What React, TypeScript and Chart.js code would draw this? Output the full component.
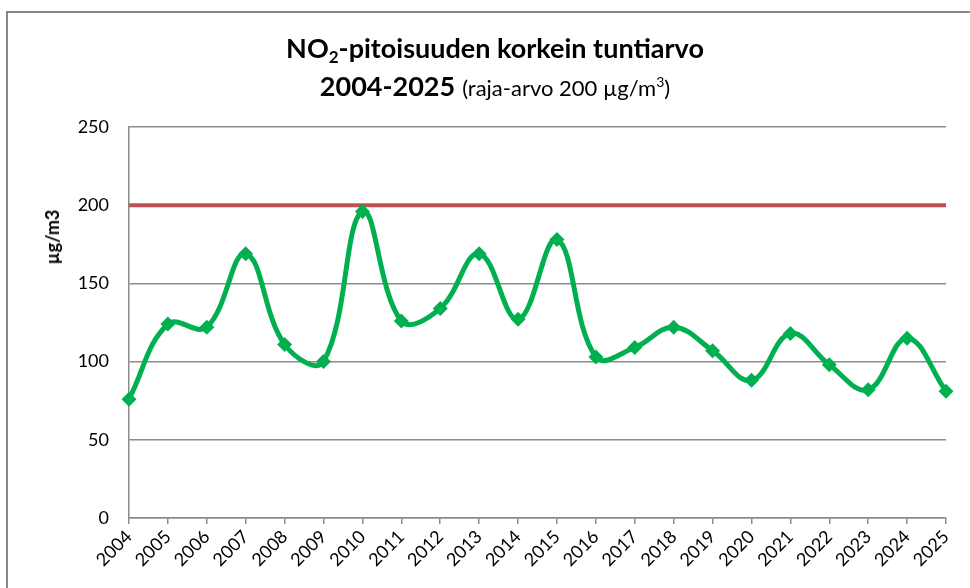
import React, { useEffect, useRef } from "react";
import { Chart, registerables } from "chart.js";

Chart.register(...registerables);

const years = [
  "2004", "2005", "2006", "2007", "2008", "2009", "2010", "2011", "2012", "2013", "2014",
  "2015", "2016", "2017", "2018", "2019", "2020", "2021", "2022", "2023", "2024", "2025",
];
const maxHourly = [76, 124, 122, 169, 111, 100, 196, 126, 134, 169, 127, 178, 103, 109, 122, 107, 88, 118, 98, 82, 115, 81];
const limitValue = 200;
const limitLine = years.map(() => limitValue);
const yTicks = [0, 50, 100, 150, 200, 250];

const FONT = "Lato, 'Open Sans', sans-serif";

export default function App() {
  const ref = useRef<HTMLCanvasElement | null>(null);

  useEffect(() => {
    if (!ref.current) return;
    const chart = new Chart(ref.current, {
      type: "line",
      data: {
        labels: years,
        datasets: [
          {
            label: "NO2",
            data: maxHourly,
            borderColor: "#00B050",
            backgroundColor: "#00B050",
            borderWidth: 5,
            tension: 0.4,
            pointStyle: "rectRot",
            pointRadius: 7.5,
            pointBorderWidth: 0,
            pointBackgroundColor: "#00B050",
            order: 1,
          },
          {
            label: "raja-arvo",
            data: limitLine,
            borderColor: "#C0504D",
            borderWidth: 4,
            pointRadius: 0,
            tension: 0,
            order: 2,
          },
        ],
      },
      options: {
        animation: false,
        responsive: false,
        maintainAspectRatio: false,
        layout: { padding: { left: 0, right: 24, top: 127, bottom: 0 } },
        plugins: {
          legend: { display: false },
          title: { display: false },
          tooltip: { enabled: false },
        },
        scales: {
          x: {
            offset: false,
            grid: {
              drawOnChartArea: false,
              drawTicks: true,
              tickLength: 6,
              color: "#8c8c8c",
              lineWidth: 1.5,
            },
            border: { display: true, color: "#8c8c8c", width: 1.5 },
            ticks: {
              autoSkip: false,
              maxRotation: 45,
              minRotation: 45,
              padding: 2,
              color: "#000",
              font: { family: FONT, size: 18 },
            },
            afterFit: (scale: any) => {
              scale.height = 70;
            },
          },
          y: {
            min: 0,
            max: 250,
            afterBuildTicks: (scale: any) => {
              scale.ticks = yTicks.map((v) => ({ value: v }));
            },
            grid: { drawTicks: false, color: "#8c8c8c", lineWidth: 1.5 },
            border: { display: true, color: "#8c8c8c", width: 1.5 },
            ticks: {
              padding: 20,
              color: "#000",
              font: { family: FONT, size: 18 },
            },
            afterFit: (scale: any) => {
              scale.width = 129;
            },
          },
        },
      },
    });
    return () => chart.destroy();
  }, []);

  return (
    <div
      style={{
        position: "absolute",
        left: 0,
        top: 0,
        width: 970,
        height: 588,
        overflow: "hidden",
        background: "#fff",
        fontFamily: FONT,
      }}
    >
      <div
        style={{
          position: "absolute",
          left: 6,
          top: 11,
          width: 2000,
          height: 2000,
          border: "2px solid #878787",
          boxSizing: "border-box",
        }}
      />
      <canvas ref={ref} width={970} height={588} style={{ position: "absolute", left: 0, top: 0 }} />
      <div
        style={{
          position: "absolute",
          left: 0,
          width: 990,
          top: 29,
          textAlign: "center",
          color: "#000",
          lineHeight: "38px",
        }}
      >
        <div style={{ fontSize: 27, fontWeight: 700 }}>
          NO<sub style={{ fontSize: 17, verticalAlign: "-5px", lineHeight: 0 }}>2</sub>-pitoisuuden korkein tuntiarvo
        </div>
        <div style={{ fontSize: 27 }}>
          <span style={{ fontWeight: 700 }}>2004-2025</span>{" "}
          <span style={{ fontSize: 22 }}>
            (raja-arvo 200 µg/m<sup style={{ fontSize: 14, verticalAlign: "9px", lineHeight: 0 }}>3</sup>)
          </span>
        </div>
      </div>
      <div
        style={{
          position: "absolute",
          left: 52,
          top: 237,
          transform: "translate(-50%, -50%) rotate(-90deg)",
          fontSize: 18,
          fontWeight: 700,
          color: "#000",
          whiteSpace: "nowrap",
        }}
      >
        µg/m3
      </div>
    </div>
  );
}
